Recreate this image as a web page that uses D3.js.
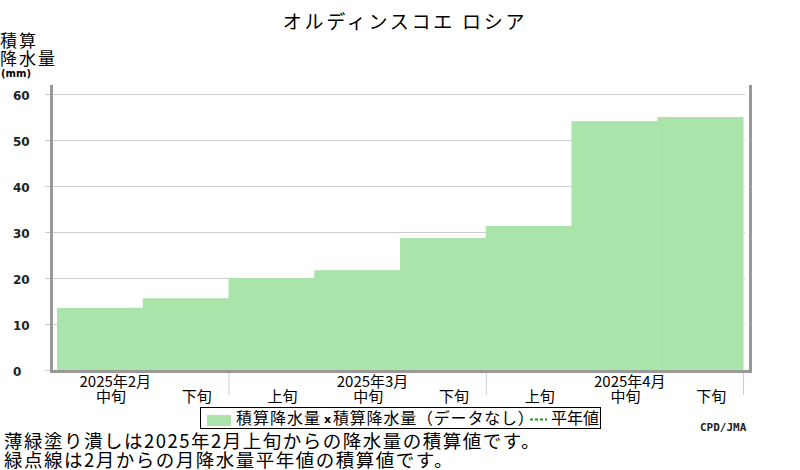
<!DOCTYPE html>
<html>
<head>
<meta charset="utf-8">
<script src="https://cdn.jsdelivr.net/npm/d3@7"></script>
<style>
  body { margin: 0; background: #fff; }
  svg { display: block; font-family: "Noto Sans CJK JP", sans-serif; }
</style>
</head>
<body>
<svg id="chart" width="800" height="470"></svg>
<script>
const title = 'オルディンスコエ ロシア';
const periods = ['中旬', '下旬', '上旬', '中旬', '下旬', '上旬', '中旬', '下旬'];
const values = [13.5, 15.6, 20.0, 21.7, 28.7, 31.3, 54.1, 55.0];
const months = ['2025年2月', '2025年3月', '2025年4月'];
const monthMid = [0, 3, 6];      // period index where the month label sits
const monthEnds = [2, 5, 8];     // period boundaries between months
const yTicks = [0, 10, 20, 30, 40, 50, 60];
const notes = [
  '薄緑塗り潰しは2025年2月上旬からの降水量の積算値です。',
  '緑点線は2月からの月降水量平年値の積算値です。',
];

const svg = d3.select('#chart');

const x = d3.scaleLinear().domain([0, periods.length]).range([57, 743]);
const y = d3.scaleLinear().domain([0, 60]).range([370, 94]);

// grid + y labels
const yAxis = d3.axisLeft(y).tickValues(yTicks).tickSize(-700).tickPadding(32);
const gy = svg.append('g').attr('transform', 'translate(45,0)').call(yAxis);
gy.select('.domain').remove();
gy.selectAll('.tick line').attr('stroke', '#cccccc');
gy.selectAll('.tick text')
  .attr('text-anchor', 'start')
  .attr('x', -32)
  .attr('dy', '0.45em')
  .style('font-family', '"DejaVu Sans", sans-serif')
  .style('font-weight', 'bold')
  .style('font-size', '12px')
  .attr('fill', '#222');

// accumulated precipitation steps
svg.append('g')
  .selectAll('rect')
  .data(values)
  .join('rect')
  .attr('x', (d, i) => x(i))
  .attr('width', (d, i) => x(i + 1) - x(i) + 0.5)
  .attr('y', (d) => y(d))
  .attr('height', (d) => y(0) - y(d))
  .attr('fill', '#aae4aa');

// frame
const axisColor = '#999999';
svg.append('line').attr('x1', 51.5).attr('x2', 51.5).attr('y1', 85).attr('y2', 373)
  .attr('stroke', axisColor).attr('stroke-width', 3);
svg.append('line').attr('x1', 750.5).attr('x2', 750.5).attr('y1', 85).attr('y2', 373)
  .attr('stroke', axisColor).attr('stroke-width', 3);
svg.append('line').attr('x1', 50).attr('x2', 752).attr('y1', 371.5).attr('y2', 371.5)
  .attr('stroke', axisColor).attr('stroke-width', 3);

// month boundary ticks
svg.append('g')
  .selectAll('line')
  .data(monthEnds)
  .join('line')
  .attr('x1', (d) => x(d) + 0.5)
  .attr('x2', (d) => x(d) + 0.5)
  .attr('y1', 373)
  .attr('y2', 395)
  .attr('stroke', '#cccccc');

// period labels
svg.append('g')
  .selectAll('text')
  .data(periods)
  .join('text')
  .attr('x', (d, i) => x(i + 0.63))
  .attr('y', 402)
  .attr('text-anchor', 'middle')
  .style('font-size', '15px')
  .text((d) => d);

// month labels
svg.append('g')
  .selectAll('text')
  .data(months)
  .join('text')
  .attr('x', (d, i) => x(monthMid[i] + 0.68))
  .attr('y', 387)
  .attr('text-anchor', 'middle')
  .style('font-size', '15px')
  .text((d) => d);

// title
svg.append('text')
  .attr('x', 405)
  .attr('y', 29)
  .attr('text-anchor', 'middle')
  .style('font-size', '19px')
  .style('letter-spacing', '2.75px')
  .text(title);

// y axis title
const yt = svg.append('g');
yt.append('text').attr('x', 0).attr('y', 47).style('font-size', '17px')
  .style('letter-spacing', '2px').text('積算');
yt.append('text').attr('x', 0).attr('y', 65).style('font-size', '17px')
  .style('letter-spacing', '2px').text('降水量');
yt.append('text').attr('x', 1).attr('y', 77)
  .style('font-size', '10px').style('font-weight', 'bold')
  .style('font-family', '"DejaVu Sans", sans-serif')
  .text('(mm)');

// legend
const lg = svg.append('g');
lg.append('rect').attr('x', 200.5).attr('y', 407.5).attr('width', 400).attr('height', 21)
  .attr('fill', '#fff').attr('stroke', '#000');
lg.append('rect').attr('x', 207).attr('y', 415).attr('width', 24).attr('height', 11)
  .attr('fill', '#aae4aa');
lg.append('text').attr('x', 236).attr('y', 424).style('font-size', '16px')
  .style('letter-spacing', '1px').text('積算降水量');
lg.append('text').attr('x', 324).attr('y', 423).style('font-size', '11px')
  .style('font-weight', 'bold').style('font-family', '"DejaVu Sans", sans-serif').text('x');
lg.append('text').attr('x', 333).attr('y', 424).style('font-size', '16px')
  .style('letter-spacing', '0.8px').text('積算降水量（データなし）');
lg.append('line').attr('x1', 530).attr('x2', 547).attr('y1', 419.5).attr('y2', 419.5)
  .attr('stroke', '#1a9a1a').attr('stroke-width', 2).attr('stroke-dasharray', '3,2');
lg.append('text').attr('x', 551).attr('y', 424).style('font-size', '16px').text('平年値');

// credit
svg.append('text').attr('x', 700).attr('y', 431)
  .style('font-family', '"DejaVu Sans Mono", monospace')
  .style('font-weight', 'bold').style('font-size', '11px').attr('fill', '#222')
  .text('CPD/JMA');

// notes
svg.append('g')
  .selectAll('text')
  .data(notes)
  .join('text')
  .attr('x', 4)
  .attr('y', (d, i) => 448 + i * 18.5)
  .style('font-size', '18.5px')
  .style('letter-spacing', '1.5px')
  .text((d) => d);
</script>
</body>
</html>
